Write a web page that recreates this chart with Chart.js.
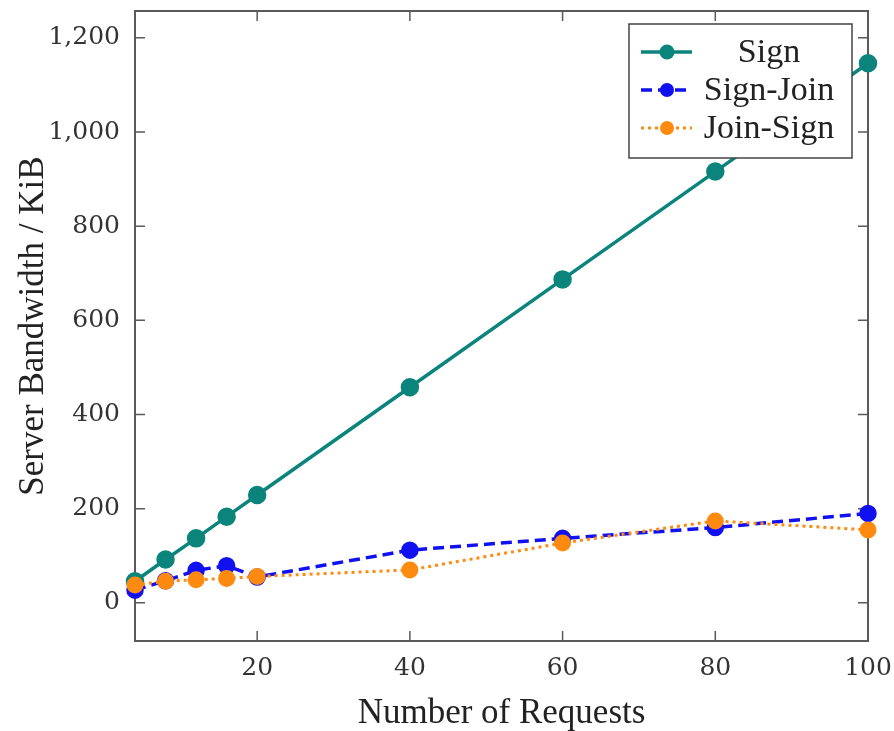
<!DOCTYPE html>
<html>
<head>
<meta charset="utf-8">
<script src="https://cdn.jsdelivr.net/npm/chart.js@4"></script>
<style>
  html, body { margin: 0; padding: 0; background: #fff; }
  canvas { display: block; }
</style>
</head>
<body>
<canvas id="bwChart" width="894" height="731"></canvas>
<script>
// data
const requests = [4, 8, 12, 16, 20, 40, 60, 80, 100];
const signKiB = [46, 92, 137, 183, 229, 458, 687, 916, 1146];
const signJoinKiB = [27, 47, 69, 79, 55, 112, 137, 160, 190];
const joinSignKiB = [38, 46, 49, 52, 56, 70, 127, 174, 155];
const seriesNames = ['Sign', 'Sign-Join', 'Join-Sign'];
const xTicks = [20, 40, 60, 80, 100];
const yTicks = [0, 200, 400, 600, 800, 1000, 1200];

const TICK_LEN = 10;
const serif = "'Liberation Serif', 'Times New Roman', serif";
const tickFont = "'DejaVu Serif', serif";

const toPoints = vals => vals.map((v, i) => ({ x: requests[i], y: v }));

// pgfplots style box with inward ticks on every side
const frameAndTicks = {
  id: 'frameAndTicks',
  beforeDatasetsDraw(chart) {
    const { ctx, chartArea: a, scales: { x, y } } = chart;
    ctx.save();
    ctx.strokeStyle = '#5a5a5a';
    ctx.lineWidth = 1.5;
    ctx.beginPath();
    x.ticks.forEach(t => {
      const px = x.getPixelForValue(t.value);
      ctx.moveTo(px, a.bottom); ctx.lineTo(px, a.bottom - TICK_LEN);
      ctx.moveTo(px, a.top); ctx.lineTo(px, a.top + TICK_LEN);
    });
    y.ticks.forEach(t => {
      const py = y.getPixelForValue(t.value);
      ctx.moveTo(a.left, py); ctx.lineTo(a.left + TICK_LEN, py);
      ctx.moveTo(a.right, py); ctx.lineTo(a.right - TICK_LEN, py);
    });
    ctx.stroke();
    ctx.lineWidth = 2;
    ctx.strokeRect(a.left, a.top, a.right - a.left, a.bottom - a.top);
    ctx.restore();
  }
};

// legend box inside the plot, top right
const boxLegend = {
  id: 'boxLegend',
  afterDraw(chart) {
    const { ctx, chartArea: a } = chart;
    const w = 223, h = 134, rowH = 38;
    const left = a.right - 16 - w, top = a.top + 13;
    ctx.save();
    ctx.fillStyle = '#fff';
    ctx.fillRect(left, top, w, h);
    ctx.strokeStyle = '#444';
    ctx.lineWidth = 1.5;
    ctx.strokeRect(left, top, w, h);
    chart.data.datasets.forEach((ds, i) => {
      const cy = top + 28 + i * rowH;
      ctx.strokeStyle = ds.borderColor;
      ctx.lineWidth = ds.borderWidth;
      ctx.setLineDash(ds.borderDash || []);
      ctx.beginPath();
      ctx.moveTo(left + 12, cy);
      ctx.lineTo(left + 63, cy);
      ctx.stroke();
      ctx.setLineDash([]);
      ctx.fillStyle = ds.pointBackgroundColor;
      ctx.beginPath();
      ctx.arc(left + 38, cy, ds.pointRadius, 0, Math.PI * 2);
      ctx.fill();
      ctx.fillStyle = '#222';
      ctx.font = '34px ' + serif;
      ctx.textAlign = 'center';
      ctx.textBaseline = 'middle';
      ctx.fillText(ds.label, left + 140, cy + 1);
    });
    ctx.restore();
  }
};

const ctx = document.getElementById('bwChart').getContext('2d');
const bwChart = new Chart(ctx, {
  type: 'line',
  data: {
    datasets: [
      {
        label: seriesNames[0],
        data: toPoints(signKiB),
        borderColor: '#0b847c',
        pointBackgroundColor: '#0b847c',
        pointBorderColor: '#0b847c',
        borderWidth: 3.5,
        pointRadius: 7.5,
        order: 3
      },
      {
        label: seriesNames[1],
        data: toPoints(signJoinKiB),
        borderColor: '#1010f0',
        pointBackgroundColor: '#1010f0',
        pointBorderColor: '#1010f0',
        borderWidth: 3.5,
        borderDash: [11, 6],
        pointRadius: 7,
        order: 2
      },
      {
        label: seriesNames[2],
        data: toPoints(joinSignKiB),
        borderColor: '#ff8a10',
        pointBackgroundColor: '#ff8a10',
        pointBorderColor: '#ff8a10',
        borderWidth: 3,
        borderDash: [3, 4],
        pointRadius: 7,
        order: 1
      }
    ]
  },
  options: {
    responsive: false,
    animation: false,
    clip: false,
    layout: { padding: { left: 0, right: 26, top: 11, bottom: 0 } },
    plugins: {
      legend: { display: false },
      tooltip: { enabled: false }
    },
    scales: {
      x: {
        type: 'linear',
        min: 4,
        max: 100,
        grid: { display: false, drawTicks: false },
        border: { display: false },
        afterBuildTicks: s => { s.ticks = xTicks.map(v => ({ value: v })); },
        afterFit: s => { s.height = 90; s.paddingLeft = 0; s.paddingRight = 0; },
        ticks: {
          padding: 12,
          color: '#333',
          font: { family: tickFont, size: 25 },
          maxRotation: 0
        },
        title: {
          display: true,
          text: 'Number of Requests',
          color: '#222',
          font: { family: serif, size: 35, lineHeight: 1.0 },
          padding: { top: 0, bottom: 0 }
        }
      },
      y: {
        type: 'linear',
        min: -81,
        max: 1257,
        grid: { display: false, drawTicks: false },
        border: { display: false },
        afterBuildTicks: s => { s.ticks = yTicks.map(v => ({ value: v })); },
        afterFit: s => { s.width = 135; s.paddingTop = 0; s.paddingBottom = 0; },
        ticks: {
          padding: 15,
          color: '#333',
          font: { family: tickFont, size: 25 },
          callback: v => v.toLocaleString('en-US')
        },
        title: {
          display: true,
          text: 'Server Bandwidth / KiB',
          color: '#222',
          font: { family: serif, size: 35, lineHeight: 1.2 },
          padding: { top: 13, bottom: 0 }
        }
      }
    }
  },
  plugins: [frameAndTicks, boxLegend]
});
</script>
</body>
</html>
